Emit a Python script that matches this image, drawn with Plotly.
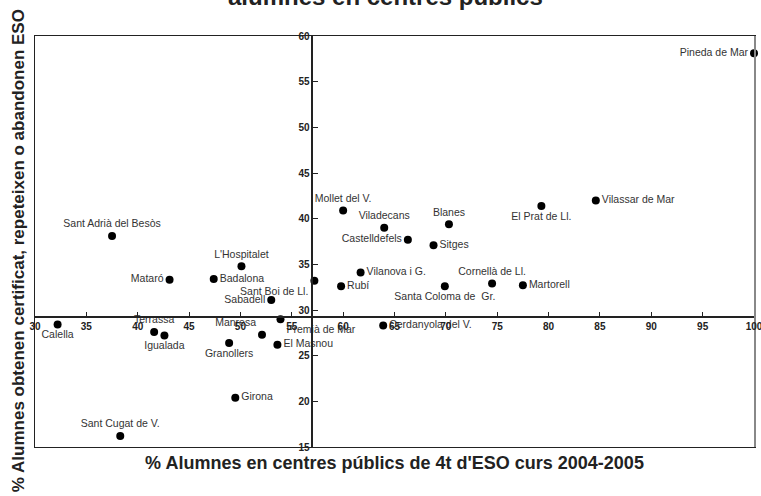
import plotly.graph_objects as go

# Dades: municipis, % alumnes en centres públics (x) i % que obtenen certificat/repeteixen/abandonen (y)
municipis = ["Pineda de Mar", "Vilassar de Mar", "El Prat de Ll.", "Mollet del V.", "Viladecans",
             "Blanes", "Castelldefels", "Sitges", "Sant Adrià del Besòs", "L'Hospitalet",
             "Mataró", "Badalona", "Vilanova i G.", "Sant Boi de Ll.", "Rubí",
             "Santa Coloma de  Gr.", "Cornellà de Ll.", "Martorell", "Sabadell", "Premià de Mar",
             "Manresa", "Granollers", "El Masnou", "Cerdanyola del V.", "Calella",
             "Terrassa", "Igualada", "Girona", "Sant Cugat de V."]
pct_publics = [100.0, 84.6, 79.3, 60.0, 64.0,
               70.3, 66.3, 68.8, 37.5, 50.1,
               43.1, 47.4, 61.7, 57.2, 59.8,
               69.9, 74.5, 77.5, 53.0, 53.9,
               52.1, 48.9, 53.6, 63.9, 32.2,
               41.6, 42.6, 49.5, 38.3]
pct_eso = [58.1, 42.0, 41.4, 40.9, 39.0,
           39.4, 37.7, 37.1, 38.1, 34.8,
           33.3, 33.4, 34.1, 33.2, 32.6,
           32.6, 32.9, 32.7, 31.1, 29.0,
           27.3, 26.4, 26.2, 28.3, 28.4,
           27.6, 27.2, 20.4, 16.2]

# Ticks
x_ticks = [30, 35, 40, 45, 50, 55, 60, 65, 70, 75, 80, 85, 90, 95, 100]
y_ticks = [15, 20, 25, 30, 35, 40, 45, 50, 55, 60]

# On es creuen els eixos
creu_x = 57
creu_y = 29.2

x_rang = [30, 100]
y_rang = [15, 60]

# Posició de les etiquetes
posicions = {
    "Pineda de Mar": "middle left", "Vilassar de Mar": "middle right", "El Prat de Ll.": "bottom center",
    "Mollet del V.": "top center", "Viladecans": "top center", "Blanes": "top center",
    "Castelldefels": "middle left", "Sitges": "middle right", "Sant Adrià del Besòs": "top center",
    "L'Hospitalet": "top center", "Mataró": "middle left", "Badalona": "middle right",
    "Vilanova i G.": "middle right", "Sant Boi de Ll.": "bottom left", "Rubí": "middle right",
    "Santa Coloma de  Gr.": "bottom center", "Cornellà de Ll.": "top center", "Martorell": "middle right",
    "Sabadell": "middle left", "Premià de Mar": "bottom right", "Manresa": "top left",
    "Granollers": "bottom center", "El Masnou": "middle right", "Cerdanyola del V.": "middle right",
    "Calella": "bottom center", "Terrassa": "top center", "Igualada": "bottom center",
    "Girona": "middle right", "Sant Cugat de V.": "top center",
}

fig = go.Figure()

fig.add_trace(go.Scatter(
    x=pct_publics, y=pct_eso,
    mode='markers+text',
    text=municipis,
    textposition=[posicions[m] for m in municipis],
    textfont=dict(family="Liberation Sans, Arial", size=10.5, color="#333333"),
    marker=dict(size=8, color="black"),
    cliponaxis=False,
    hovertemplate="%{text}<br>%{x}, %{y}<extra></extra>",
))

# traces invisibles per activar els eixos que es creuen i la vora dreta
fig.add_trace(go.Scatter(x=pct_publics, y=pct_eso, xaxis='x2', yaxis='y2',
                         mode='markers', marker=dict(opacity=0), hoverinfo='skip'))
fig.add_trace(go.Scatter(x=pct_publics, y=pct_eso, xaxis='x', yaxis='y3',
                         mode='markers', marker=dict(opacity=0), hoverinfo='skip'))

tick_font = dict(family="Liberation Sans, Arial", size=10, color="#222222", weight="bold")

fig.update_layout(
    template='none',
    width=761, height=496,
    margin=dict(l=35, r=7, t=36, b=49, autoexpand=False),
    plot_bgcolor="white", paper_bgcolor="white",
    showlegend=False,
    xaxis=dict(range=x_rang, showgrid=False, zeroline=False, showticklabels=False, ticks='',
               automargin=False,
               showline=True, linecolor="#222222", linewidth=1, mirror=True,
               title=dict(text="% Alumnes en centres públics de 4t d'ESO curs 2004-2005",
                          font=dict(family="Liberation Sans, Arial", size=18, color="#222222", weight="bold"),
                          standoff=9)),
    yaxis=dict(range=y_rang, showgrid=False, zeroline=False, showticklabels=False, ticks='',
               automargin=False,
               showline=True, linecolor="#222222", linewidth=1),
    yaxis3=dict(range=y_rang, overlaying='y', side='right', showgrid=False, zeroline=False,
                automargin=False,
                showticklabels=False, ticks='', showline=True, linecolor="#888888", linewidth=2),
    xaxis2=dict(range=x_rang, overlaying='x', anchor='free',
                position=(creu_y - y_rang[0]) / (y_rang[1] - y_rang[0]),
                side='bottom', showgrid=False, zeroline=False, automargin=False,
                tickmode='array', tickvals=x_ticks, ticks='inside', ticklen=5, tickcolor="#222222",
                ticklabeloverflow='allow',
                showline=True, linecolor="#222222", linewidth=1.5, tickfont=tick_font),
    yaxis2=dict(range=y_rang, overlaying='y', anchor='free',
                position=(creu_x - x_rang[0]) / (x_rang[1] - x_rang[0]),
                side='left', showgrid=False, zeroline=False, automargin=False,
                tickmode='array', tickvals=y_ticks, ticks='inside', ticklen=5, tickcolor="#222222",
                showline=True, linecolor="#222222", linewidth=1.5, tickfont=tick_font),
)

# Títol (tallat a dalt) i títol de l'eix Y
fig.add_annotation(text="alumnes en centres públics", xref='paper', yref='paper',
                   x=0.488, y=1.058, yanchor='bottom', showarrow=False,
                   font=dict(family="Liberation Sans, Arial", size=24, color="#222222", weight="bold"))
fig.add_annotation(text="% Alumnes obtenen certificat, repeteixen o abandonen ESO", xref='paper', yref='paper',
                   x=-0.038, y=0.477, textangle=-90, showarrow=False,
                   font=dict(family="Liberation Sans, Arial", size=17, color="#222222", weight="bold"))

# sense marge del body perquè la figura ocupi tota la finestra
fig.write_html("out.html", config={'displayModeBar': False},
               post_script="document.body.style.margin='0px';")
